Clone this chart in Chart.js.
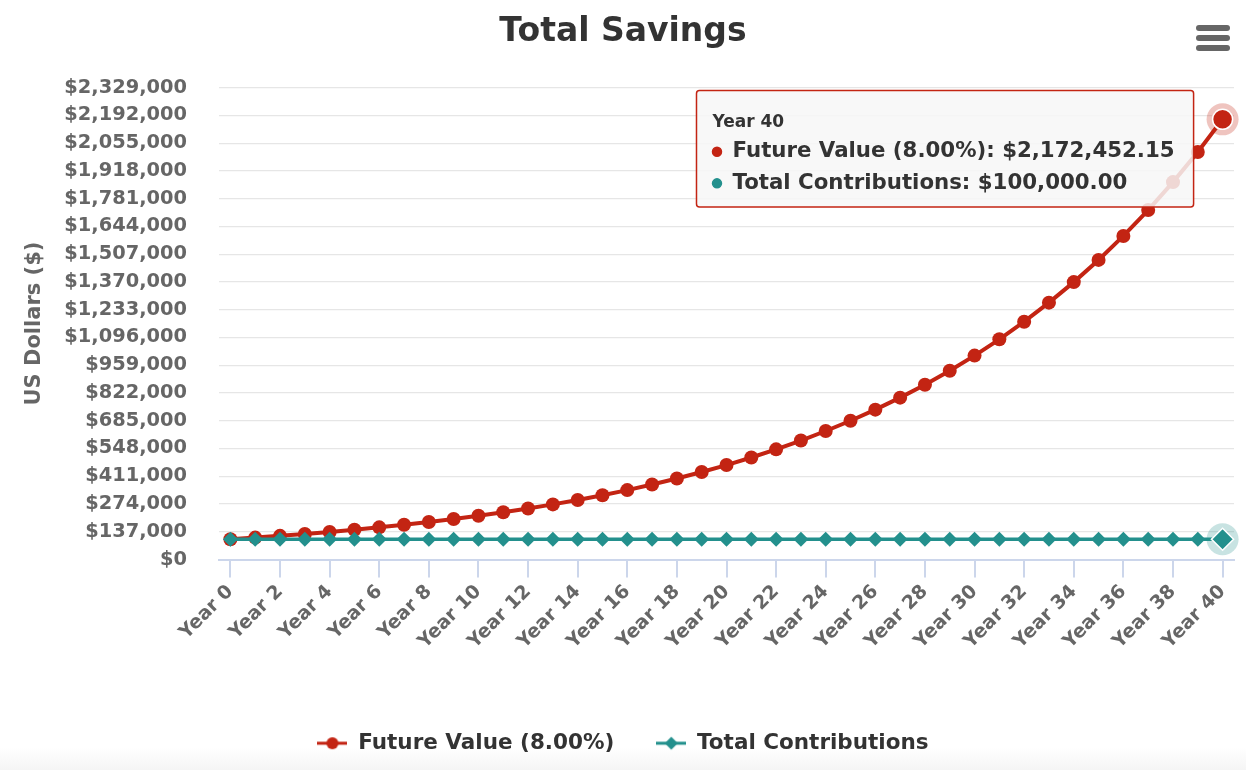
<!DOCTYPE html>
<html lang="en">
<head>
    <meta charset="UTF-8">
    <title>Total Savings</title>
    <style>
        html, body { margin: 0; padding: 0; background: #fff; }
        #wrap {
            width: 1246px;
            height: 770px;
            position: relative;
            background: linear-gradient(to bottom, #ffffff 97%, #f5f5f5 100%);
        }
    </style>
</head>
<body>
    <div id="wrap">
        <canvas id="savingsChart"></canvas>
    </div>
    <script src="https://cdn.jsdelivr.net/npm/chart.js"></script>
    <script>
        // data
        var years = [0, 1, 2, 3, 4, 5, 6, 7, 8, 9, 10, 11, 12, 13, 14, 15, 16, 17, 18, 19, 20,
                     21, 22, 23, 24, 25, 26, 27, 28, 29, 30, 31, 32, 33, 34, 35, 36, 37, 38, 39, 40];
        var futureValue = [100000.00, 108000.00, 116640.00, 125971.20, 136048.90, 146932.81,
                           158687.43, 171382.43, 185093.02, 199900.46, 215892.50, 233163.90,
                           251817.01, 271962.37, 293719.36, 317216.91, 342594.26, 370001.80,
                           399601.95, 431570.11, 466095.71, 503383.37, 543654.04, 587146.36,
                           634118.07, 684847.52, 739635.32, 798806.15, 862710.64, 931727.49,
                           1006265.69, 1086766.94, 1173708.30, 1267604.97, 1369013.36, 1478534.43,
                           1596817.18, 1724562.56, 1862527.56, 2011529.77, 2172452.15];
        var totalContributions = [100000, 100000, 100000, 100000, 100000, 100000, 100000,
                                  100000, 100000, 100000, 100000, 100000, 100000, 100000,
                                  100000, 100000, 100000, 100000, 100000, 100000, 100000,
                                  100000, 100000, 100000, 100000, 100000, 100000, 100000,
                                  100000, 100000, 100000, 100000, 100000, 100000, 100000,
                                  100000, 100000, 100000, 100000, 100000, 100000];
        var yTicks = [0, 137000, 274000, 411000, 548000, 685000, 822000, 959000, 1096000,
                      1233000, 1370000, 1507000, 1644000, 1781000, 1918000, 2055000,
                      2192000, 2329000];
        var seriesNames = ['Future Value (8.00%)', 'Total Contributions'];

        var RED = '#c32413';
        var TEAL = '#23908d';
        var HALO = ['rgba(195,36,19,0.27)', 'rgba(35,144,141,0.25)'];

        Chart.defaults.font.family = '"DejaVu Sans", Verdana, sans-serif';

        function money(v, digits) {
            return '$' + v.toLocaleString('en-US', {
                minimumFractionDigits: digits,
                maximumFractionDigits: digits
            });
        }

        // small legend symbols: line with marker, like the original
        function legendIcon(color, diamond) {
            var c = document.createElement('canvas');
            c.width = 30;
            c.height = 16;
            var g = c.getContext('2d');
            g.strokeStyle = color;
            g.lineWidth = 3;
            g.beginPath();
            g.moveTo(0, 8);
            g.lineTo(30, 8);
            g.stroke();
            g.fillStyle = color;
            g.beginPath();
            if (diamond) {
                g.moveTo(15, 1.5);
                g.lineTo(21.5, 8);
                g.lineTo(15, 14.5);
                g.lineTo(8.5, 8);
                g.closePath();
            } else {
                g.arc(15, 8, 6, 0, Math.PI * 2);
            }
            g.fill();
            return c;
        }
        var legendIcons = [legendIcon(RED, false), legendIcon(TEAL, true)];

        // tooltip sits left of the hovered point, near the top of the plot
        Chart.Tooltip.positioners.topLeftOfPoint = function (items) {
            if (!items.length) return false;
            return { x: items[0].element.x - 32, y: this.chart.chartArea.top + 3 };
        };

        // halo behind hovered markers + hamburger menu icon
        var extras = {
            id: 'extras',
            afterDatasetsDraw: function (chart) {
                var ctx = chart.ctx;
                chart.getActiveElements().forEach(function (a) {
                    var el = a.element;
                    ctx.save();
                    ctx.beginPath();
                    ctx.arc(el.x, el.y, 16, 0, Math.PI * 2);
                    ctx.fillStyle = HALO[a.datasetIndex];
                    ctx.fill();
                    ctx.restore();
                    el.draw(ctx, chart.chartArea);
                });
            },
            afterDraw: function (chart) {
                var ctx = chart.ctx;
                ctx.save();
                ctx.fillStyle = '#666';
                [25, 35, 45].forEach(function (y) {
                    ctx.beginPath();
                    ctx.roundRect(1196, y, 34, 6, 3);
                    ctx.fill();
                });
                ctx.restore();
            }
        };

        var ctx = document.getElementById('savingsChart').getContext('2d');
        var chart = new Chart(ctx, {
            type: 'line',
            data: {
                datasets: [{
                    label: seriesNames[0],
                    data: years.map(function (y, i) { return { x: y, y: futureValue[i] }; }),
                    borderColor: RED,
                    backgroundColor: RED,
                    borderWidth: 4,
                    pointRadius: 7,
                    pointBorderWidth: 0,
                    pointHoverRadius: 10,
                    pointHoverBackgroundColor: RED,
                    pointHoverBorderColor: '#fff',
                    pointHoverBorderWidth: 1.5,
                    order: 1
                }, {
                    label: seriesNames[1],
                    data: years.map(function (y, i) { return { x: y, y: totalContributions[i] }; }),
                    borderColor: TEAL,
                    backgroundColor: TEAL,
                    borderWidth: 3.5,
                    pointStyle: 'rectRot',
                    pointRadius: 7.5,
                    pointBorderWidth: 0,
                    pointHoverRadius: 11,
                    pointHoverBackgroundColor: TEAL,
                    pointHoverBorderColor: '#fff',
                    pointHoverBorderWidth: 1.5,
                    order: 0
                }]
            },
            options: {
                responsive: true,
                maintainAspectRatio: false,
                animation: false,
                events: [],
                layout: { padding: { left: 12, right: 12, top: 0, bottom: 6 } },
                interaction: { mode: 'index', intersect: false },
                scales: {
                    x: {
                        type: 'linear',
                        min: -0.46,
                        max: 40.46,
                        afterFit: function (scale) { scale.height = 131; },
                        ticks: {
                            stepSize: 2,
                            includeBounds: false,
                            autoSkip: false,
                            minRotation: 45,
                            maxRotation: 45,
                            padding: 3,
                            color: '#666',
                            font: { size: 19, weight: 'bold' },
                            callback: function (v) { return 'Year ' + v; }
                        },
                        grid: {
                            drawOnChartArea: false,
                            drawTicks: true,
                            tickLength: 18,
                            color: '#ccd6eb',
                            lineWidth: 2
                        },
                        border: { display: true, color: '#ccd6eb', width: 2 }
                    },
                    y: {
                        min: 0,
                        max: yTicks[yTicks.length - 1],
                        afterFit: function (scale) { scale.width = 207; },
                        afterBuildTicks: function (scale) {
                            scale.ticks = yTicks.map(function (v) { return { value: v }; });
                        },
                        ticks: {
                            padding: 32,
                            color: '#666',
                            font: { size: 19.4, weight: 'bold' },
                            callback: function (v) { return money(v, 0); }
                        },
                        grid: { color: '#e6e6e6', lineWidth: 1.2, drawTicks: false },
                        border: { display: false },
                        title: {
                            display: true,
                            text: 'US Dollars ($)',
                            color: '#666',
                            font: { size: 21, weight: 'bold' },
                            padding: { top: 10, bottom: 0 }
                        }
                    }
                },
                plugins: {
                    title: {
                        display: true,
                        text: 'Total Savings',
                        color: '#333',
                        font: { size: 33, weight: 'bold' },
                        padding: { top: 13, bottom: 35 }
                    },
                    legend: {
                        position: 'bottom',
                        labels: {
                            color: '#333',
                            font: { size: 21.5, weight: 'bold' },
                            usePointStyle: true,
                            pointStyleWidth: 30,
                            boxHeight: 16,
                            padding: 42,
                            sort: function (a, b) { return a.datasetIndex - b.datasetIndex; },
                            generateLabels: function (chart) {
                                var items = Chart.defaults.plugins.legend.labels.generateLabels(chart);
                                items.forEach(function (it) { it.pointStyle = legendIcons[it.datasetIndex]; });
                                return items;
                            }
                        }
                    },
                    tooltip: {
                        position: 'topLeftOfPoint',
                        xAlign: 'right',
                        yAlign: 'top',
                        caretSize: 0,
                        caretPadding: 0,
                        cornerRadius: 3,
                        backgroundColor: 'rgba(247,247,247,0.85)',
                        borderColor: RED,
                        borderWidth: 1.5,
                        padding: { top: 22, right: 19, bottom: 11, left: 16 },
                        titleColor: '#333',
                        titleFont: { size: 17, weight: 'bold' },
                        titleMarginBottom: 6,
                        bodyColor: '#333',
                        bodyFont: { size: 21.3, weight: 'bold' },
                        bodySpacing: 6,
                        displayColors: true,
                        usePointStyle: true,
                        boxWidth: 9,
                        boxHeight: 9,
                        boxPadding: 9,
                        itemSort: function (a, b) { return a.datasetIndex - b.datasetIndex; },
                        callbacks: {
                            title: function (items) { return 'Year ' + items[0].parsed.x; },
                            label: function (item) {
                                return item.dataset.label + ': ' + money(item.parsed.y, 2);
                            },
                            labelColor: function (item) {
                                var c = item.dataset.borderColor;
                                return { borderColor: c, backgroundColor: c, borderWidth: 0 };
                            },
                            labelPointStyle: function () {
                                return { pointStyle: 'circle', rotation: 0 };
                            }
                        }
                    }
                }
            },
            plugins: [extras]
        });

        // show the hover state for the last year, as in the original
        var last = years.length - 1;
        var active = [{ datasetIndex: 0, index: last }, { datasetIndex: 1, index: last }];
        chart.setActiveElements(active);
        chart.tooltip.setActiveElements(active, { x: 0, y: 0 });
        chart.update();
    </script>
</body>
</html>
